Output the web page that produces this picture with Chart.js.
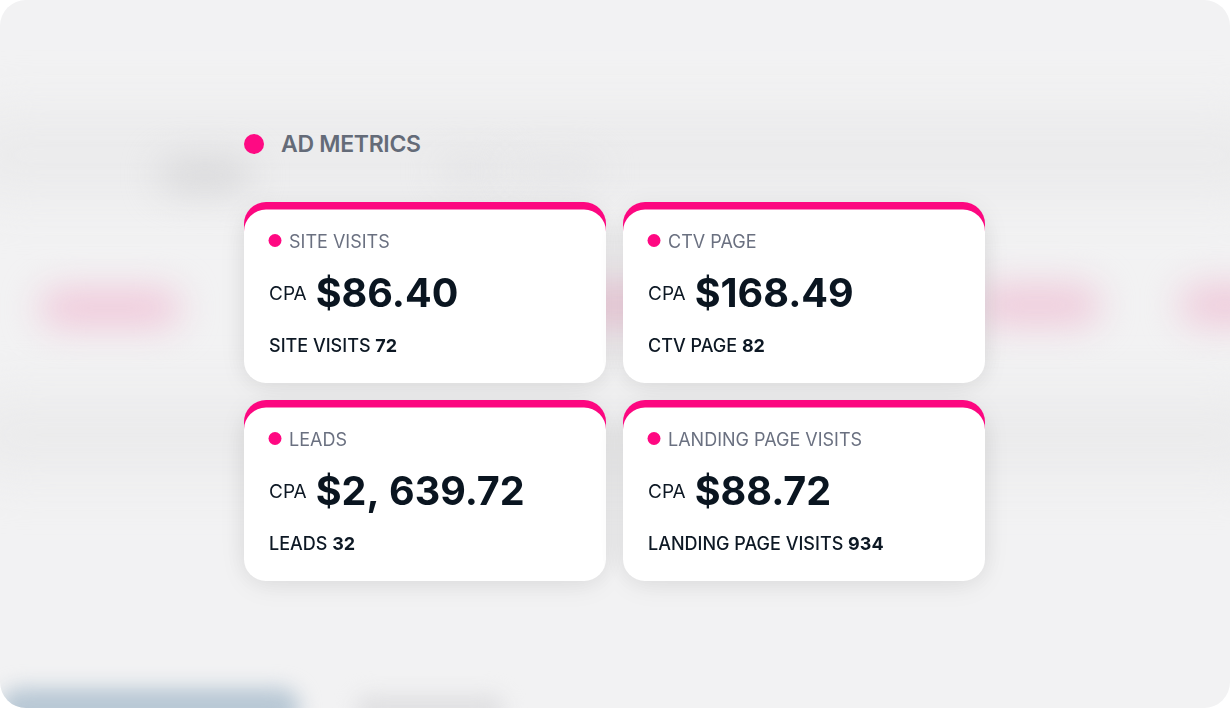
<!DOCTYPE html>
<html lang="en">
<head>
    <meta charset="UTF-8">
    <title>Ad Metrics</title>
    <script src="https://cdn.jsdelivr.net/npm/chart.js"></script>
    <style>
        html, body {
    margin: 0;
    padding: 0;
    background: #ffffff;
    font-family: 'Inter', 'Noto Sans', sans-serif;
}

.panel {
    position: absolute;
    left: 0;
    top: 0;
    width: 1230px;
    height: 708px;
    border-radius: 26px;
    background: #f2f2f3;
    overflow: hidden;
}

.blur {
    position: absolute;
    border-radius: 40px;
    filter: blur(18px);
}

.title {
    position: absolute;
    left: 244px;
    top: 130px;
    display: flex;
    align-items: center;
    font-size: 23px;
    font-weight: 600;
    color: #646b78;
    letter-spacing: -0.3px;
}

.title .dot {
    width: 20px;
    height: 20px;
    border-radius: 50%;
    background: #fe0a83;
    margin-right: 17px;
}

.wrap {
    position: absolute;
    left: 0;
    top: 0;
    width: 1230px;
    height: 708px;
}
    </style>
</head>
<body>

    <div class="panel">
        <!-- blurred dashboard behind the cards -->
        <div class="blur" style="left:-40px; top:110px; width:1320px; height:90px; background:#ebebec; filter:blur(25px);"></div>
        <div class="blur" style="left:-40px; top:395px; width:1320px; height:80px; background:#ebebec; filter:blur(25px);"></div>
        <div class="blur" style="left:160px; top:160px; width:90px; height:30px; background:#d6d6d8;"></div>
        <div class="blur" style="left:440px; top:160px; width:60px; height:22px; background:#e2e2e4;"></div>
        <div class="blur" style="left:510px; top:160px; width:90px; height:22px; background:#e4e4e6;"></div>
        <div class="blur" style="left:40px; top:290px; width:140px; height:36px; background:#f0c6d9;"></div>
        <div class="blur" style="left:560px; top:285px; width:120px; height:40px; background:#efc9da;"></div>
        <div class="blur" style="left:975px; top:285px; width:125px; height:40px; background:#efc9da;"></div>
        <div class="blur" style="left:1180px; top:285px; width:90px; height:40px; background:#efc9da;"></div>
        <div class="blur" style="left:0px; top:688px; width:300px; height:40px; background:#b7c7d4; filter:blur(10px);"></div>
        <div class="blur" style="left:355px; top:695px; width:150px; height:30px; background:#e0e0e2; filter:blur(10px);"></div>
    </div>

    <div class="title"><span class="dot"></span>AD METRICS</div>

    <div class="wrap">
        <canvas id="metricsChart"></canvas>
    </div>

    <script>
let metricLabels = ["SITE VISITS", "CTV PAGE", "LEADS", "LANDING PAGE VISITS"];
let cpaValues = [86.40, 168.49, 2639.72, 88.72];
let countValues = [72, 82, 32, 934];
let prefixText = "CPA";

let pink = '#ff0882';
let gap = 17;

function formatCpa(v) {
    // the source shows the thousands separator followed by a space
    return '$' + v.toLocaleString('en-US', { minimumFractionDigits: 2, maximumFractionDigits: 2 }).replace(',', ', ');
}

function roundRect(ctx, x, y, w, h, r) {
    ctx.beginPath();
    ctx.moveTo(x + r, y);
    ctx.lineTo(x + w - r, y);
    ctx.arcTo(x + w, y, x + w, y + r, r);
    ctx.lineTo(x + w, y + h - r);
    ctx.arcTo(x + w, y + h, x + w - r, y + h, r);
    ctx.lineTo(x + r, y + h);
    ctx.arcTo(x, y + h, x, y + h - r, r);
    ctx.lineTo(x, y + r);
    ctx.arcTo(x, y, x + r, y, r);
    ctx.closePath();
}

// each card sits on a grid cell: x = column, y = row
let cardPlugin = {
    id: 'cards',
    afterDatasetsDraw(chart) {
        let ctx = chart.ctx;
        let xs = chart.scales.x;
        let ys = chart.scales.y;
        let unitX = xs.getPixelForValue(1) - xs.getPixelForValue(0);
        let unitY = ys.getPixelForValue(1) - ys.getPixelForValue(0);
        let w = unitX - gap;
        let h = unitY - gap;
        let meta = chart.getDatasetMeta(0);

        meta.data.forEach((pt, i) => {
            let x0 = pt.x - w / 2;
            let y0 = pt.y - h / 2;
            let band = 7.5;
            let r = 22;

            ctx.save();
            // shadow + pink top band
            ctx.shadowColor = 'rgba(0, 0, 0, 0.07)';
            ctx.shadowBlur = 28;
            ctx.shadowOffsetY = 6;
            ctx.fillStyle = pink;
            roundRect(ctx, x0, y0, w, h - band, r);
            ctx.fill();
            ctx.shadowColor = 'rgba(0, 0, 0, 0.06)';
            ctx.fillStyle = '#ffffff';
            roundRect(ctx, x0, y0 + band, w, h - band, r);
            ctx.fill();
            ctx.restore();

            let top = y0 + band;

            ctx.save();
            ctx.textBaseline = 'alphabetic';
            ctx.textAlign = 'left';

            // header dot + label
            ctx.fillStyle = pink;
            ctx.beginPath();
            ctx.arc(x0 + 31, top + 31, 6.5, 0, Math.PI * 2);
            ctx.fill();
            ctx.fillStyle = '#6a7080';
            ctx.font = '400 18px Inter';
            ctx.fillText(metricLabels[i], x0 + 45, top + 38);

            // CPA value
            ctx.fillStyle = '#0d1824';
            ctx.font = '400 19px Inter';
            ctx.fillText(prefixText, x0 + 25, top + 90);
            let px = x0 + 25 + ctx.measureText(prefixText).width + 9;
            ctx.fillStyle = '#0a1520';
            ctx.font = '700 39.5px Inter';
            ctx.fillText(formatCpa(cpaValues[i]), px, top + 97.5);

            // count line
            ctx.fillStyle = '#0d1824';
            ctx.font = '500 18px Inter';
            let lbl = metricLabels[i] + ' ';
            ctx.fillText(lbl, x0 + 25, top + 142.5);
            let nx = x0 + 25 + ctx.measureText(lbl).width;
            ctx.font = '700 18px Inter';
            ctx.fillText(String(countValues[i]), nx, top + 142.5);
            ctx.restore();
        });
    }
};

let ctx1 = document.getElementById('metricsChart').getContext('2d');
let metricsChart = new Chart(ctx1, {
    type: 'scatter',
    data: {
        datasets: [{
            label: 'Ad metrics',
            data: metricLabels.map((m, i) => ({ x: i % 2, y: Math.floor(i / 2) })),
            pointRadius: 0,
            pointHoverRadius: 0
        }]
    },
    options: {
        responsive: true,
        maintainAspectRatio: false,
        animation: false,
        events: [],
        layout: {
            padding: { left: 235.5, right: 236.5, top: 193.5, bottom: 118.5 }
        },
        scales: {
            x: { type: 'linear', min: -0.5, max: 1.5, display: false },
            y: { type: 'linear', min: -0.5, max: 1.5, reverse: true, display: false }
        },
        plugins: {
            legend: { display: false },
            tooltip: { enabled: false }
        }
    },
    plugins: [cardPlugin]
});
    </script>

</body>
</html>
